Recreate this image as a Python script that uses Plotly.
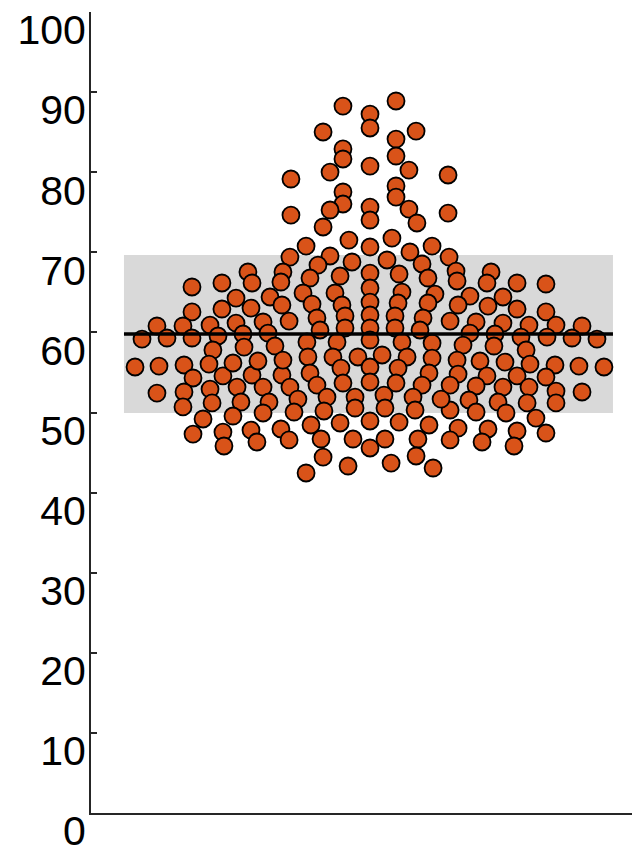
import plotly.graph_objects as go

# Swarm offsets (horizontal spread, arbitrary swarm units) and values
swarm_x = [
    -1.59, 0.00, 1.53, 0.00, -2.76, 2.71, 1.53, -1.59, -1.59, 1.53,
    0.00, -2.35, 2.29, -4.65, 4.59, -1.59, -1.59, 1.53, 1.53, -2.35,
    0.00, 2.29, -4.65, 4.59, 0.00, 2.76, -2.76, -1.24, 1.29, -3.76,
    3.65, 0.00, -2.35, 2.35, -4.71, 4.65, -3.06, -1.06, 1.00, 3.06,
    -3.53, -1.76, 0.00, 1.71, 3.41, -5.12, -5.24, -7.18, -6.94, -10.47,
    -8.71, -7.88, -5.88, -5.18, -10.47, -8.71, -7.00, 5.06, 5.12, 7.12,
    6.88, 8.65, 10.35, 5.88, 5.18, 7.82, 6.94, 8.65, 10.35, -3.94,
    -2.06, 0.00, 1.88, 3.82, -3.41, -1.65, 0.00, 1.65, 3.41, -3.12,
    -1.47, 0.00, 1.47, 3.12, -2.94, -1.47, 0.00, 1.47, 2.94, -1.94,
    0.00, 1.88, -3.71, 3.65, -4.76, 4.71, -12.53, -11.00, -9.41, -7.88,
    -6.29, -13.41, -11.94, -10.47, -8.94, -7.47, -6.00, -9.24, -7.41, -5.59,
    6.24, 7.82, 9.35, 10.94, 12.47, 5.88, 7.35, 8.88, 10.41, 11.88,
    13.35, 5.47, 7.29, 9.18, -13.82, -12.41, -10.94, -9.47, -10.41, -12.53,
    -10.94, -11.00, -9.41, -9.29, -9.82, -10.41, -8.65, -8.06, -7.82, -7.59,
    -8.06, -8.65, -8.59, -6.94, -6.59, -6.29, -5.94, -6.29, -7.00, -6.65,
    -5.24, -4.76, -5.18, -5.12, 5.12, 6.47, 7.94, 9.41, 10.88, 12.29,
    13.76, 5.18, 6.88, 8.65, 10.35, 4.71, 6.24, 7.82, 9.35, 10.94,
    12.47, 5.82, 7.53, 9.24, 10.94, 6.24, 8.00, 9.76, 4.71, 5.18,
    6.94, 8.65, 10.35, 4.71, 6.59, 8.47, -3.65, -2.18, -0.71, 0.71,
    2.18, 3.65, -3.53, -1.71, 0.00, 1.65, 3.47, -4.71, -3.12, -1.59,
    0.00, 1.53, 3.06, -4.24, -2.53, -0.88, 0.82, 2.53, 4.18, -4.47,
    -2.71, -0.88, 0.88, 2.65, -3.47, -1.76, 0.00, 1.71, 3.47, -2.88,
    -1.00, 0.88, 2.82, 0.00, -2.76, 2.71, -3.76, -1.29, 1.24, 3.71,
]

values = [
    88.26, 87.26, 88.89, 85.52, 85.02, 85.14, 84.14, 82.90, 81.65, 82.02,
    80.77, 80.02, 80.27, 79.15, 79.65, 77.53, 76.03, 78.28, 76.90, 75.28,
    75.65, 75.40, 74.65, 74.90, 74.03, 73.66, 73.16, 71.53, 71.78, 70.78,
    70.78, 70.66, 69.54, 70.04, 69.41, 69.41, 68.41, 68.79, 69.04, 68.54,
    66.79, 67.04, 67.41, 67.29, 66.79, 67.54, 66.29, 67.54, 66.17, 65.67,
    66.17, 64.29, 64.42, 63.42, 62.55, 62.92, 63.04, 67.66, 66.42, 67.54,
    66.17, 66.17, 66.04, 64.54, 63.42, 64.42, 63.29, 62.92, 62.55, 64.92,
    64.92, 65.54, 65.04, 64.79, 63.54, 63.42, 63.79, 63.67, 63.67, 61.80,
    62.05, 62.17, 62.05, 61.80, 60.30, 60.55, 60.55, 60.55, 60.30, 58.80,
    59.05, 58.80, 58.80, 58.67, 61.42, 61.42, 60.80, 60.80, 60.92, 61.17,
    61.30, 59.17, 59.30, 59.30, 59.55, 59.80, 59.92, 57.80, 58.17, 58.30,
    61.30, 61.17, 60.92, 60.92, 60.80, 59.92, 59.80, 59.42, 59.42, 59.30,
    59.17, 58.42, 58.30, 57.80, 55.68, 55.80, 55.93, 56.05, 54.31, 52.43,
    52.56, 50.69, 52.93, 51.19, 49.19, 47.31, 54.56, 56.18, 53.18, 51.31,
    49.56, 47.56, 45.82, 54.68, 56.43, 53.18, 51.31, 49.94, 47.81, 46.32,
    47.94, 46.57, 54.68, 56.55, 56.55, 56.43, 56.30, 56.05, 55.93, 55.80,
    55.68, 54.80, 54.56, 54.56, 54.43, 53.43, 53.31, 53.18, 53.18, 52.68,
    52.56, 51.56, 51.31, 51.19, 51.19, 50.06, 49.94, 49.31, 50.31, 48.06,
    47.94, 47.69, 47.44, 46.57, 46.32, 45.82, 56.93, 56.93, 56.93, 57.18,
    56.93, 56.80, 54.93, 55.55, 55.68, 55.55, 54.93, 53.18, 53.43, 53.68,
    53.81, 53.68, 53.43, 51.68, 51.93, 51.93, 52.18, 51.93, 51.68, 50.06,
    50.19, 50.56, 50.56, 50.31, 48.44, 48.69, 48.94, 48.81, 48.44, 46.69,
    46.69, 46.69, 46.69, 45.57, 44.44, 44.57, 42.45, 43.32, 43.69, 43.07,
]

mean_value = 59.8
sd_value = 9.86
tick_values = [0, 10, 20, 30, 40, 50, 60, 70, 80, 90, 100]
tick_labels = ["0", "10", "20", "30", "40", "50", "60", "70", "80", "90", "100"]

band_x0, band_x1 = -14.47, 14.29

fig = go.Figure()

fig.add_shape(type="rect", xref="x", yref="y",
              x0=band_x0, x1=band_x1,
              y0=mean_value - sd_value, y1=mean_value + sd_value,
              fillcolor="#d9d9d9", line=dict(width=0), layer="below")

fig.add_trace(go.Scatter(
    x=swarm_x, y=values, mode="markers",
    marker=dict(size=17, color="#D95319", line=dict(color="black", width=1.8)),
    hoverinfo="y", showlegend=False))

fig.add_trace(go.Scatter(
    x=[band_x0, band_x1], y=[mean_value, mean_value], mode="lines",
    line=dict(color="black", width=3.5), hoverinfo="skip", showlegend=False))

# the page body adds an 8px offset; the figure is sized so it fits the window
# and the plot area sits at x 91-640, y 12-813 in the window
fig.update_layout(
    width=632, height=845,
    margin=dict(l=83, r=0, t=4, b=40, autoexpand=False),
    plot_bgcolor="white", paper_bgcolor="white",
    font=dict(family="Liberation Sans, Arial, sans-serif", size=41, color="#000000"),
    xaxis=dict(range=[-16.41, 15.88], showgrid=False, zeroline=False,
               showticklabels=False, ticks="", showline=True,
               linecolor="#262626", linewidth=2, automargin=False),
    yaxis=dict(range=[0, 100], showgrid=False, zeroline=False,
               tickmode="array", tickvals=tick_values, ticktext=tick_labels,
               ticks="inside", ticklen=6, tickwidth=1.5, tickcolor="#262626",
               showline=True, linecolor="#262626", linewidth=2,
               automargin=False, ticklabelshift=18, ticklabelstandoff=-5,
               ticklabeloverflow="allow"),
)

fig.write_html("out.html")
